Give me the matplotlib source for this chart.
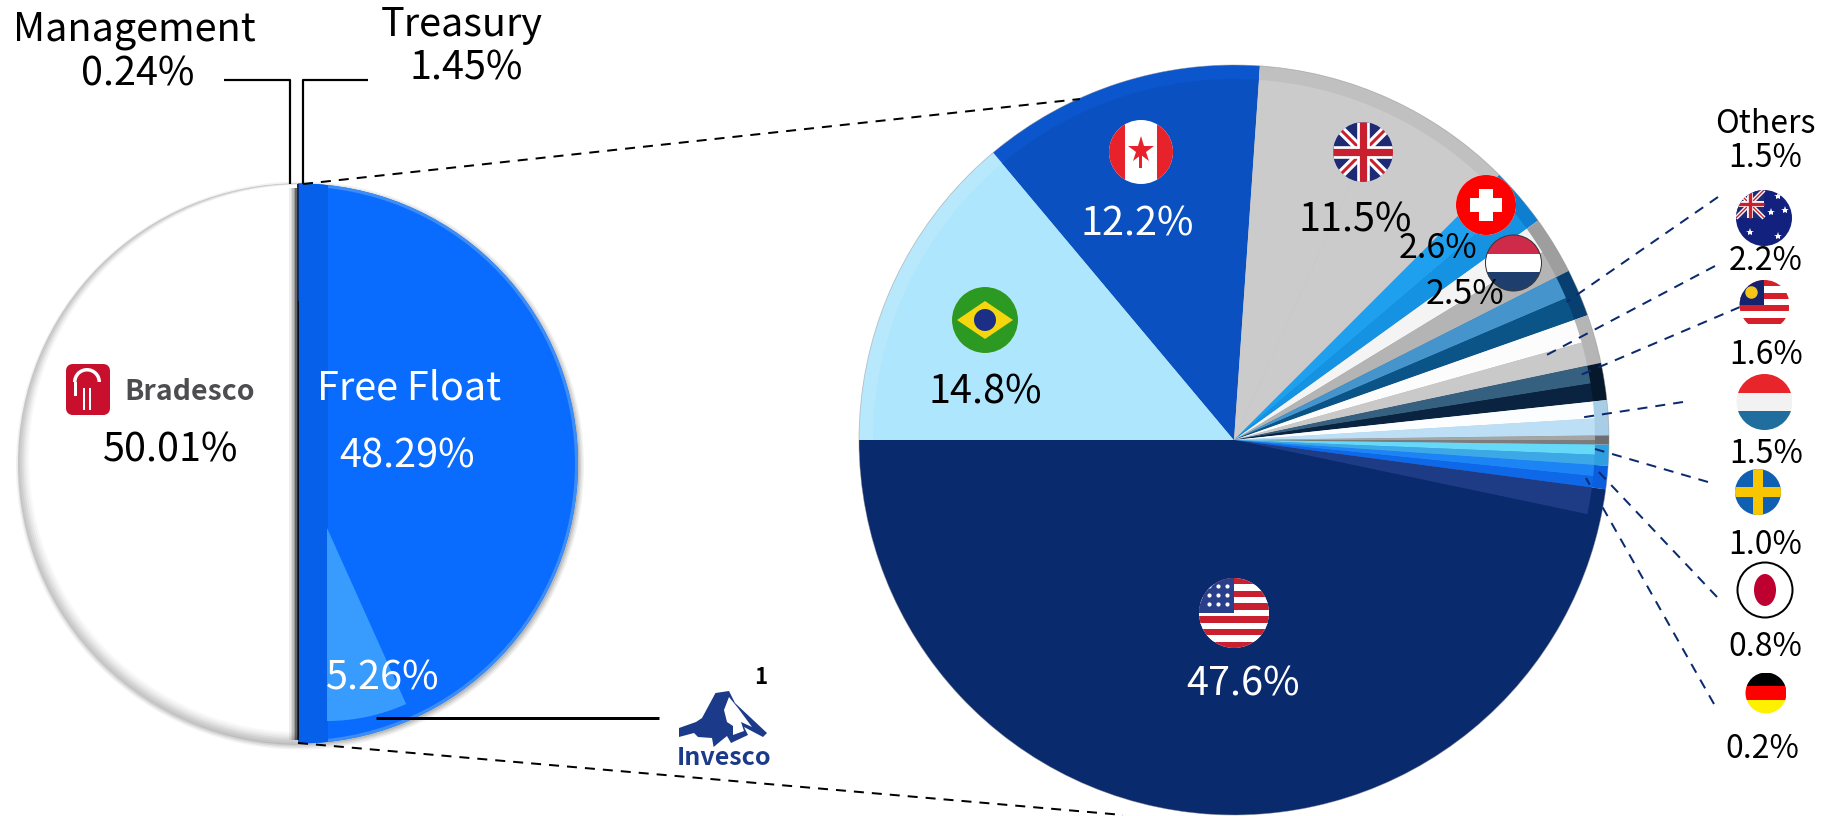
import matplotlib
matplotlib.use("Agg")
import matplotlib.pyplot as plt
from matplotlib.patches import Circle, Wedge, Rectangle, Polygon, FancyBboxPatch, Ellipse

plt.rcParams['font.family'] = ['Noto Sans CJK KR', 'DejaVu Sans']

# ---------- data ----------
owner_names = ["Bradesco", "Management", "Treasury", "Free Float"]
owner_values = [50.01, 0.24, 1.45, 48.29]
invesco_share = 5.26

region_names = ["Brazil", "Canada", "UK", "Switzerland", "Netherlands", "Others", "Australia",
                "Malaysia", "Luxembourg", "Germany", "Japan", "Sweden", "USA"]
# percentages as printed on the chart
region_labels = [14.8, 12.2, 11.5, 2.6, 2.5, 1.5, 2.2, 1.6, 1.5, 0.2, 0.8, 1.0, 47.6]
# slice sizes as drawn in the picture (they differ a little from the printed figures)
region_slices = [13.9, 12.2, 11.4, 2.55, 2.5, 2.05, 2.1, 1.6, 1.5, 0.4, 0.9, 1.0, 47.9]

# ---------- styles ----------
owner_colors = ["#C6C6C6", "#3A3A3A", "#0B55D0", "#0A6BFF"]
region_rim = ["#B8E8FC", "#0B56CC", "#C0C0C0", "#0E7FD0", "#9E9E9E", "#063F70", "#B5B5B5",
              "#06182C", "#A8CDE6", "#6E6E6E", "#2F9FE0", "#0A5FE0", "#0A2A6E"]
region_light = ["#AEE6FD", "#0A50C0", "#CBCBCB", "#1FA0EE", "#F4F4F4", "#4595CC", "#FCFCFC",
                "#36607F", "#FBFDFF", "#A5A5A5", "#66D8F8", "#1C84F4", "#1E3C85"]
region_dark = ["#AEE6FD", "#0A50C0", "#CBCBCB", "#1592E2", "#B4B4B4", "#0B5488", "#C9C9C9",
               "#0A2340", "#BCDFF5", "#7C7C7C", "#3CA8E6", "#0E68E8", "#0A2A6E"]
split = [0.5] * 12 + [0.025]

W, H = 1825, 816
fig = plt.figure(figsize=(W / 100, H / 100), dpi=100)
ax = fig.add_axes([0, 0, 1, 1])


def Y(y):
    return H - y


def lw(px):
    return px * 0.72


def label(x, y, s, size=28.5, color="black", **kw):
    ax.text(x, Y(y), s, ha="center", va="center", fontsize=size, color=color, **kw)


# ---------- left pie ----------
LC, LR = (298, Y(463.5)), 280
# soft drop shadow
for i, a in enumerate([0.05, 0.06, 0.08, 0.10]):
    ax.add_patch(Circle((LC[0] + 2, LC[1] - 2), LR + 4 - i * 1.5, fc="black", alpha=a, lw=0, zorder=0.5))
ax.pie(owner_values, colors=owner_colors, center=LC, radius=LR, startangle=-90,
       counterclock=False, frame=True, wedgeprops=dict(linewidth=0))
# soft rim on white half, thicker to the lower left
for i, col in enumerate(["#CFCFCF", "#DADADA", "#E6E6E6", "#F0F0F0", "#F8F8F8", "#FFFFFF"]):
    d = 0.8 * (i + 1)
    ax.add_patch(Wedge((LC[0] + d, LC[1] + d), LR - 1.3 * d, 90, 270, fc=col, lw=0, zorder=2))
# rim on free-float half
ax.add_patch(Wedge(LC, LR, -90, 84, fc="#3D8DF5", lw=0, zorder=2))
ax.add_patch(Wedge(LC, LR - 3, -90, 84, fc="#0A6BFF", lw=0, zorder=2))
# darker strip beside the axis of the pie
strip = Rectangle((298, Y(743)), 30, 560, fc="#0660EA", lw=0, zorder=2.1)
ax.add_patch(strip)
strip.set_clip_path(Wedge(LC, LR, -90, 90, transform=ax.transData))
# shadow along the split
for i, a in enumerate([0.85, 0.6, 0.4, 0.25, 0.14, 0.07]):
    ax.add_patch(Rectangle((297 - i * 1.6, Y(740)), 1.6, 552, fc="black", alpha=a, lw=0, zorder=2.2))
# thin navy line for the small holdings
ax.plot([298, 298], [Y(185), Y(300)], color="#0A2A6E", lw=lw(2), zorder=2.3)
# Invesco wedge
deg_per_pct = 4.6
ax.add_patch(Wedge((327, Y(528)), 193, -90, -90 + invesco_share * deg_per_pct,
                   fc="#3EA2FF", lw=0, alpha=0.9, zorder=2.4))

# ---------- right pie ----------
RC, RR = (1234, Y(440)), 375
start = 180
ax.pie(region_slices, colors=region_rim, center=RC, radius=RR, startangle=start, counterclock=False,
       frame=True, wedgeprops=dict(linewidth=0))
flat_vals, flat_cols = [], []
for v, f, l, d in zip(region_slices, split, region_light, region_dark):
    flat_vals += [v * f, v * (1 - f)]
    flat_cols += [l, d]
ax.pie(flat_vals, colors=flat_cols, center=RC, radius=RR - 14, startangle=start, counterclock=False,
       frame=True, wedgeprops=dict(linewidth=0))
ax.add_patch(Circle(RC, RR, fc="none", ec="#8A8A8A", lw=lw(0.8), alpha=0.5, zorder=3))


# ---------- connector lines ----------
def seg(xs, ys, color="black", width=2.2, dash=None, z=5):
    line, = ax.plot(xs, [Y(v) for v in ys], color=color, lw=lw(width), zorder=z, solid_capstyle="butt")
    if dash:
        line.set_linestyle((0, dash))
    return line


seg([224.5, 290, 290], [80, 80, 184])
seg([368, 303.5, 303.5], [80, 80, 184])
seg([375.6, 659], [718, 718], width=3)
seg([303, 1080], [184, 99], width=2, dash=(5, 4))
seg([298, 1123], [743, 815], width=2, dash=(5, 4))
leaders = [((1718, 197), (1566.5, 302)), ((1715, 266), (1546.6, 355)), ((1740, 307), (1580.5, 375)),
           ((1683, 402), (1578.5, 418)), ((1708, 482), (1595, 449)), ((1717, 597), (1596, 469)),
           ((1714, 704), (1586, 478))]
for a, b in leaders:
    seg([a[0], b[0]], [a[1], b[1]], color="#0B2A6E", width=2, dash=(5, 4))


# ---------- flags ----------
def base(cx, cy, r, z=6):
    c = Circle((cx, Y(cy)), r, fc="white", ec="none", zorder=z)
    ax.add_patch(c)
    return c


def clipped(art, c):
    art.set_clip_path(c)
    art.set_zorder(c.get_zorder() + 0.1)
    return art


def rect(c, x0, y0, x1, y1, col):
    clipped(ax.add_patch(Rectangle((x0, Y(y1)), x1 - x0, y1 - y0, fc=col, lw=0)), c)


def ln(c, x0, y0, x1, y1, col, w):
    l, = ax.plot([x0, x1], [Y(y0), Y(y1)], color=col, lw=lw(w), solid_capstyle="butt")
    clipped(l, c)


def hstripes(cx, cy, r, cols):
    c = base(cx, cy, r)
    n = len(cols)
    for i, col in enumerate(cols):
        rect(c, cx - r, cy - r + 2 * r * i / n, cx + r, cy - r + 2 * r * (i + 1) / n, col)
    return c


def union(c, cx, cy, r):
    rect(c, cx - r, cy - r, cx + r, cy + r, "#1E2A74")
    ln(c, cx - r, cy - r, cx + r, cy + r, "white", r * 0.3)
    ln(c, cx - r, cy + r, cx + r, cy - r, "white", r * 0.3)
    ln(c, cx - r, cy - r, cx + r, cy + r, "#C8202F", r * 0.1)
    ln(c, cx - r, cy + r, cx + r, cy - r, "#C8202F", r * 0.1)
    ln(c, cx - r, cy, cx + r, cy, "white", r * 0.42)
    ln(c, cx, cy - r, cx, cy + r, "white", r * 0.42)
    ln(c, cx - r, cy, cx + r, cy, "#C8202F", r * 0.24)
    ln(c, cx, cy - r, cx, cy + r, "#C8202F", r * 0.24)


def dots(c, pts, col, size, marker="*"):
    for x, y in pts:
        l, = ax.plot([x], [Y(y)], marker=marker, ms=size, color=col, mew=0, ls="none")
        clipped(l, c)


# Canada
c = base(1141, 152, 32)
rect(c, 1109, 120, 1125, 184, "#E8222A")
rect(c, 1157, 120, 1173, 184, "#E8222A")
dots(c, [(1141, 150)], "#E8222A", 20)
rect(c, 1139.5, 155, 1142.5, 168, "#E8222A")
# UK
c = base(1363, 152, 30)
union(c, 1363, 152, 30)
# Brazil
c = base(985, 320, 33)
rect(c, 952, 287, 1018, 353, "#2C9A22")
clipped(ax.add_patch(Polygon([(957, Y(320)), (985, Y(301)), (1013, Y(320)), (985, Y(339))], fc="#F6D60E", lw=0)), c)
clipped(ax.add_patch(Circle((985, Y(320)), 11, fc="#1C2F86", lw=0)), c).set_zorder(6.2)
# Switzerland
c = base(1486, 205, 30)
rect(c, 1456, 175, 1516, 235, "#FF0000")
rect(c, 1479, 189, 1493, 221, "white")
rect(c, 1470, 198, 1502, 212, "white")
# Netherlands (upper)
c = hstripes(1513.5, 263, 28, ["#CE2A4A", "white", "#1E3F6E"])
ax.add_patch(Circle((1513.5, Y(263)), 28, fc="none", ec="#333333", lw=lw(1), zorder=6.3))
# USA
c = hstripes(1234, 613, 35, ["#C8202F", "white"] * 5 + ["#C8202F"])
rect(c, 1199, 578, 1234, 613, "#2A3F8A")
dots(c, [(x, y) for x in (1209, 1218, 1227) for y in (586, 595, 604)], "white", 3, "o")
# Australia
c = base(1764, 218, 28)
rect(c, 1736, 190, 1792, 246, "#12217E")
union(c, 1750, 204, 14)
dots(c, [(1750, 232), (1778, 196), (1771, 212), (1785, 210), (1778, 236)], "white", 6)
# Malaysia
c = hstripes(1764.5, 305, 25, ["#D5202C", "white"] * 4)
rect(c, 1739.5, 280, 1764.5, 305, "#15226E")
dots(c, [(1751, 292)], "#F5C518", 9, "o")
# Luxembourg
hstripes(1764.5, 402, 28, ["#E8252A", "#F2F2F2", "#1F6E9E"])
# Sweden
c = base(1758, 492, 23)
rect(c, 1735, 469, 1781, 515, "#0F5FB2")
rect(c, 1753, 469, 1763, 515, "#F7C600")
rect(c, 1735, 487, 1781, 497, "#F7C600")
# Japan
ax.add_patch(Circle((1765, Y(590)), 27.5, fc="white", ec="black", lw=lw(2), zorder=6))
ax.add_patch(Ellipse((1765, Y(590)), 22, 32, fc="#BE0030", lw=0, zorder=6.1))
# Germany
hstripes(1766, 693, 20.5, ["black", "#FF0000", "#FFF000"])

# ---------- logos ----------
ax.add_patch(FancyBboxPatch((69, Y(412)), 38, 45, boxstyle="round,pad=0,rounding_size=4",
                            fc="#C8102E", ec="#C8102E", lw=lw(6), zorder=6))
ax.add_patch(Wedge((87, Y(382)), 14, 0, 180, width=3.5, fc="white", lw=0, zorder=6.1))
ax.add_patch(Rectangle((83, Y(410)), 2.5, 22, fc="white", lw=0, zorder=6.1))
ax.add_patch(Rectangle((89, Y(410)), 2.5, 22, fc="white", lw=0, zorder=6.1))
ax.add_patch(Rectangle((74.5, Y(396)), 3, 14, fc="white", lw=0, zorder=6.1))
label(190, 392, "Bradesco", size=20.5, color="#4D4D4F", weight="bold", zorder=7)

mountain = [(679, 728), (696, 722), (702, 718), (715.5, 693), (729, 691), (735, 703), (767, 733),
            (763, 737), (744, 727), (748, 735), (731, 743), (727, 736), (722, 740), (713.6, 747),
            (712, 738), (698, 737), (694, 733), (679, 737)]
snow = [(729, 697), (724, 710), (727, 722), (733, 726), (733, 735), (744, 731), (741, 722),
        (752, 727), (738, 708)]
ax.add_patch(Polygon([(x, Y(y)) for x, y in mountain], fc="#1B3A8A", lw=0, zorder=6))
ax.add_patch(Polygon([(x, Y(y)) for x, y in snow], fc="white", lw=0, zorder=6.1))
label(724, 758, "Invesco", size=18, color="#1B3A8A", weight="bold", zorder=7)
label(761, 677, "1", size=16, weight="bold", zorder=7)

# ---------- text ----------
T = dict(zorder=8)
label(134, 30, "Management", **T)
label(138, 74, f"{owner_values[1]:.2f}%", **T)
label(462, 25, "Treasury", **T)
label(466, 69, f"{owner_values[2]:.2f}%", **T)
label(171, 450, f"{owner_values[0]:.2f}%", **T)
label(409, 388, "Free Float", color="white", **T)
label(407, 456, f"{owner_values[3]:.2f}%", color="white", **T)
label(383, 679, f"{invesco_share:.2f}%", color="white", **T)

label(1137, 224, f"{region_labels[1]:.1f}%", color="white", **T)
label(1355, 220, f"{region_labels[2]:.1f}%", **T)
label(985, 393, f"{region_labels[0]:.1f}%", **T)
label(1243, 685, f"{region_labels[12]:.1f}%", color="white", **T)
label(1438, 249, f"{region_labels[3]:.1f}%", size=24.5, **T)
label(1465, 294, f"{region_labels[4]:.1f}%", size=24.5, **T)
label(1765, 124, "Others", size=23, **T)
label(1765, 158, f"{region_labels[5]:.1f}%", size=23, **T)
label(1766, 261, f"{region_labels[6]:.1f}%", size=23, **T)
label(1766, 355, f"{region_labels[7]:.1f}%", size=23, **T)
label(1766, 454, f"{region_labels[8]:.1f}%", size=23, **T)
label(1765, 545, f"{region_labels[11]:.1f}%", size=23, **T)
label(1765, 647, f"{region_labels[10]:.1f}%", size=23, **T)
label(1762, 749, f"{region_labels[9]:.1f}%", size=23, **T)

ax.set_xlim(0, W)
ax.set_ylim(0, H)
ax.set_aspect("equal")
ax.axis("off")
fig.savefig("out.png", dpi=100, facecolor="white")
